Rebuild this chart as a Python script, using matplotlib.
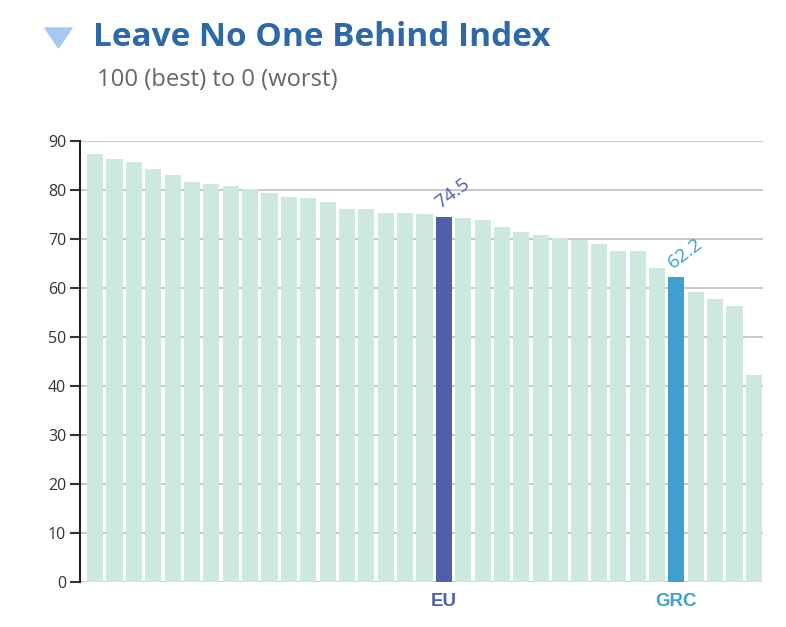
import matplotlib
matplotlib.use("Agg")
import matplotlib.pyplot as plt
from matplotlib.patches import Polygon

values = [87.3, 86.3, 85.7, 84.3, 83.0, 81.6, 81.2, 80.8, 80.1, 79.4,
          78.6, 78.4, 77.6, 76.1, 76.1, 75.3, 75.3, 75.1, 74.5, 74.3,
          73.9, 72.3, 71.3, 70.7, 70.1, 69.7, 68.9, 67.5, 67.5, 64.1,
          62.2, 59.2, 57.8, 56.2, 42.3]
labels = [""] * 18 + ["EU"] + [""] * 11 + ["GRC"] + [""] * 4
highlight = {"EU": "#4f5fae", "GRC": "#3f9fd0"}
value_labels = {"EU": "74.5", "GRC": "62.2"}
yticks = [0, 10, 20, 30, 40, 50, 60, 70, 80, 90]
title = "Leave No One Behind Index"
subtitle = "100 (best) to 0 (worst)"

base_color = "#cde8df"

fig = plt.figure(figsize=(7.86, 6.27), dpi=100)
ax = fig.add_axes([80/786, 1-582/627, (763-80)/786, (582-140.7)/627])

x = list(range(len(values)))
colors = [highlight.get(l, base_color) for l in labels]
ax.bar(x, values, width=0.83, color=colors, zorder=2)

ax.set_ylim(0, 90)
ax.set_xlim(-0.78, len(values) - 1 + 0.47)
ax.set_yticks(yticks)
ax.set_yticklabels([str(t) for t in yticks], fontsize=11.5, color="#333333",
                   fontfamily="Open Sans")
ax.set_xticks([])
ax.grid(axis="y", color="#c4c4c4", linewidth=1.3, zorder=1)
for s in ["top", "right", "bottom"]:
    ax.spines[s].set_visible(False)
ax.spines["left"].set_linewidth(1.5)
ax.spines["left"].set_color("#222222")
ax.tick_params(axis="y", length=7, width=1.5, color="#333333", pad=3)

for i, (l, v) in enumerate(zip(labels, values)):
    if l:
        c = highlight[l]
        ax.text(i, -2.3, l, ha="center", va="top", fontsize=13.5, fontweight="bold",
                color=c, fontfamily=["Liberation Sans Narrow", "Liberation Sans"])
        ax.text(i - 0.05, v + 0.9, value_labels[l], ha="left", va="bottom",
                rotation=37, rotation_mode="anchor", fontsize=14, color=c,
                fontfamily="Open Sans")

renderer = fig.canvas.get_renderer()

def fit_text(xpx, ypx, s, width_px, **kw):
    t = fig.text(xpx/786, 1-ypx/627, s, ha="left", va="center", **kw)
    w = t.get_window_extent(renderer).width
    t.set_fontsize(t.get_fontsize() * width_px / w)
    return t

fit_text(93, 38, title, 459, fontsize=20, fontweight="bold",
         color="#2d69a6", fontfamily="Open Sans")
fit_text(97, 80, subtitle, 241, fontsize=14, color="#666666",
         fontfamily="Open Sans")
tri = Polygon([[45/786, 1-28/627], [72/786, 1-28/627], [58.5/786, 1-48/627]],
              closed=True, transform=fig.transFigure, color="#a6c8f2")
fig.patches.append(tri)

fig.savefig("out.png", dpi=100)
